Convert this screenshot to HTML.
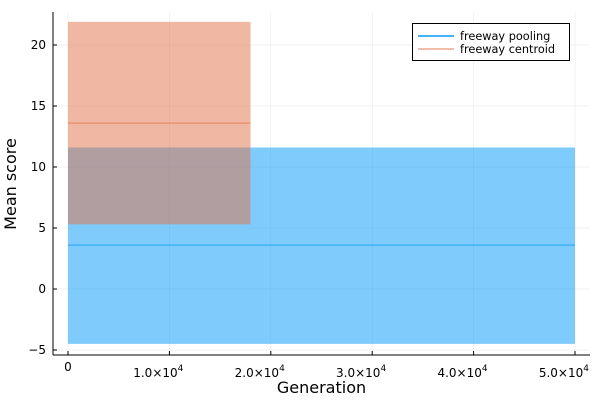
<!DOCTYPE html>
<html><head><meta charset="utf-8"><style>
body{margin:0;background:#fff}
svg{font-family:"DejaVu Sans","Liberation Sans",sans-serif}
</style></head><body>
<svg id="c" width="600" height="400"></svg>
<script>
const xTicks=[0,10000,20000,30000,40000,50000];
const xTickLabels=["0","1.0","2.0","3.0","4.0","5.0"];
const yTicks=[-5,0,5,10,15,20];
const seriesNames=["freeway pooling","freeway centroid"];
const seriesX0=[0,0];
const seriesX1=[50000,18000];
const seriesLow=[-4.5,5.3];
const seriesHigh=[11.6,21.9];
const seriesMean=[3.6,13.6];
const colors=["#009af9","#e26f46"];
const X=v=>68+v*(575-68)/50000;
const Y=v=>45-(v-20)*12.2;
const NS="http://www.w3.org/2000/svg";
const svg=document.getElementById('c');
function el(t,a,p){const e=document.createElementNS(NS,t);for(const k in a)e.setAttribute(k,a[k]);(p||svg).appendChild(e);return e;}
const L=53,R=590,T=12,B=355;
xTicks.forEach((t,i)=>{const g=el('line',{x1:X(t),x2:X(t),y1:T,y2:B,stroke:'#000','stroke-opacity':0.1,'stroke-width':0.5});

});
yTicks.forEach(t=>{const g=el('line',{x1:L,x2:R,y1:Y(t),y2:Y(t),stroke:'#000','stroke-opacity':0.1,'stroke-width':0.5});

});
seriesNames.forEach((n,i)=>{
 const r=el('rect',{x:X(seriesX0[i]),y:Y(seriesHigh[i]),width:X(seriesX1[i])-X(seriesX0[i]),height:Y(seriesLow[i])-Y(seriesHigh[i]),fill:colors[i],'fill-opacity':0.5});
 
 
});
seriesNames.forEach((n,i)=>{
 const l=el('line',{x1:X(seriesX0[i]),x2:X(seriesX1[i]),y1:Y(seriesMean[i]),y2:Y(seriesMean[i]),stroke:colors[i],'stroke-width':1.5,'stroke-opacity':0.5});
 
 
});
el('line',{x1:L,x2:L,y1:T,y2:B,stroke:'#000','stroke-width':1});
el('line',{x1:L,x2:R,y1:B,y2:B,stroke:'#000','stroke-width':1});
xTicks.forEach((t,i)=>{
 el('line',{x1:X(t),x2:X(t),y1:B,y2:B-4,stroke:'#000'});
 const tx=el('text',{x:X(t),y:i?377:371,'font-size':12,'text-anchor':i?'end':'middle',fill:'#000'});
 
 
 if(i===0){tx.textContent=xTickLabels[i];}
 else{tx.setAttribute('x',X(t)+14);tx.textContent=xTickLabels[i]+"×10";
  const s=el('tspan',{'font-size':9,dy:-6},tx);s.textContent="4";}
});
yTicks.forEach(t=>{
 el('line',{x1:L,x2:L+4,y1:Y(t),y2:Y(t),stroke:'#000'});
 const tx=el('text',{x:L-7,y:Y(t)+4,'font-size':12,'text-anchor':'end',fill:'#000'});
 
 
 tx.textContent=t<0?"−"+(-t):t;
});
const xl=el('text',{x:(L+R)/2,y:393,'font-size':16,'text-anchor':'middle'});xl.textContent="Generation";

const yl=el('text',{x:0,y:0,'font-size':16,'text-anchor':'middle',transform:'translate(16,184) rotate(-90)'});yl.textContent="Mean score";

const lg=el('g',{});


el('rect',{x:412.5,y:23.5,width:157,height:37,fill:'#fff',stroke:'#000','stroke-width':1},lg);
seriesNames.forEach((n,i)=>{
 const ly=36+i*13;
 el('line',{x1:418,x2:454,y1:ly,y2:ly,stroke:colors[i],'stroke-width':1.5,'stroke-opacity':i?0.6:1},lg);
 const t=el('text',{x:460,y:ly+4,'font-size':11.3},lg);t.textContent=n;
 
 
});
</script>
</body></html>
